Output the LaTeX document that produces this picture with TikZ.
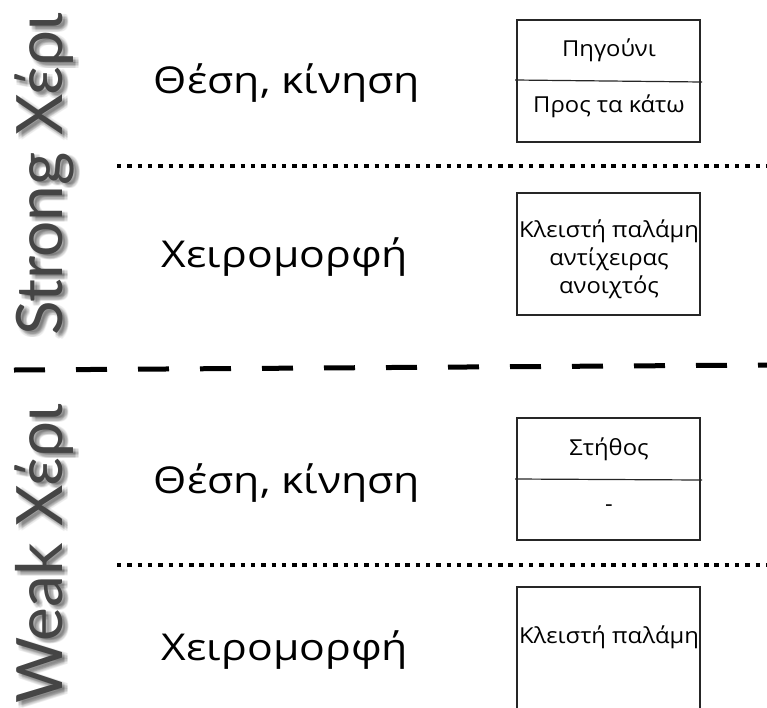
\documentclass[tikz,border=0pt]{standalone}
\usepackage{fontspec}
\setmainfont{Open Sans}
\newfontfamily\titlefont[FakeStretch=1.155]{Open Sans}
\newfontfamily\cellfont[FakeStretch=1.08]{Open Sans}
\newfontfamily\handfont{Lato}
\usetikzlibrary{calc}
\definecolor{labelgray}{HTML}{454545}

\begin{document}
\begin{tikzpicture}[x=1pt,y=-1pt,
  cell/.style={draw=black!85,line width=1.2pt,minimum width=183pt,
    minimum height=122pt,inner sep=0pt},
  rowtitle/.style={font=\titlefont\fontsize{37}{44}\selectfont,anchor=base,inner sep=0pt},
  celltext/.style={font=\cellfont\fontsize{22}{28}\selectfont,anchor=base,inner sep=0pt,align=center},
  handlabel/.style={font=\handfont\fontsize{64}{70}\selectfont,rotate=90,
    anchor=base west,inner sep=0pt,text=labelgray},
  handshadow/.style={handlabel,text=black,opacity=0.045},
  minorsep/.style={line width=4.4pt,dash pattern=on 4.4pt off 5.9pt},
  majorsep/.style={line width=5pt,dash pattern=on 31pt off 31pt},
  splitline/.style={draw=black!85,line width=1.2pt},
]
\useasboundingbox (0,0) rectangle (767,707);
\clip (0,0) rectangle (767,707);

% hand labels along the left edge, with a soft drop shadow
\foreach \dx in {2,3.5,5,6.5} \foreach \dy in {1,2.5,4,5.5} {
  \node[handshadow] at ({62+\dx},{336+\dy}) {Strong Χέρι};
  \node[handshadow] at ({62+\dx},{704+\dy}) {Weak Χέρι};
}
\node[handlabel] (strong) at (62,336) {Strong Χέρι};
\node[handlabel] (weak) at (62,704) {Weak Χέρι};

% row titles
\node[rowtitle] (pos1)   at (287,93)  {Θέση, κίνηση};
\node[rowtitle] (shape1) at (285,267) {Χειρομορφή};
\node[rowtitle] (pos2)   at (287,493) {Θέση, κίνηση};
\node[rowtitle] (shape2) at (285,660) {Χειρομορφή};

% value cells
\node[cell] (b1) at (608.5,81) {};
\node[cell] (b2) at (608.5,254) {};
\node[cell] (b3) at (608.5,479) {};
\node[cell,minimum height=140pt] (b4) at (608.5,657) {};

\draw[splitline] (515,80) -- (702,82);
\draw[splitline] (515,479) -- (702,480);

\node[celltext] (t1a) at (609,56)  {Πηγούνι};
\node[celltext] (t1b) at (609,112) {Προς τα κάτω};
\node[celltext,anchor=center] (t2) at (609,259)
  {Κλειστή παλάμη\\αντίχειρας\\ανοιχτός};
\node[celltext] (t3a) at (609,455) {Στήθος};
\node[celltext] (t3b) at (609,511) {-};
\node[celltext] (t4) at (609,643) {Κλειστή παλάμη};

% separators
\coordinate (d1a) at (117,166);
\coordinate (d1b) at (767,166);
\coordinate (d2a) at (117,565);
\coordinate (d2b) at (767,565);
\coordinate (m1a) at (14,370);
\coordinate (m1b) at (767,365);
\draw[minorsep] (d1a) -- (d1b);
\draw[minorsep] (d2a) -- (d2b);
\draw[majorsep] (m1a) -- (m1b);
\end{tikzpicture}
\end{document}
